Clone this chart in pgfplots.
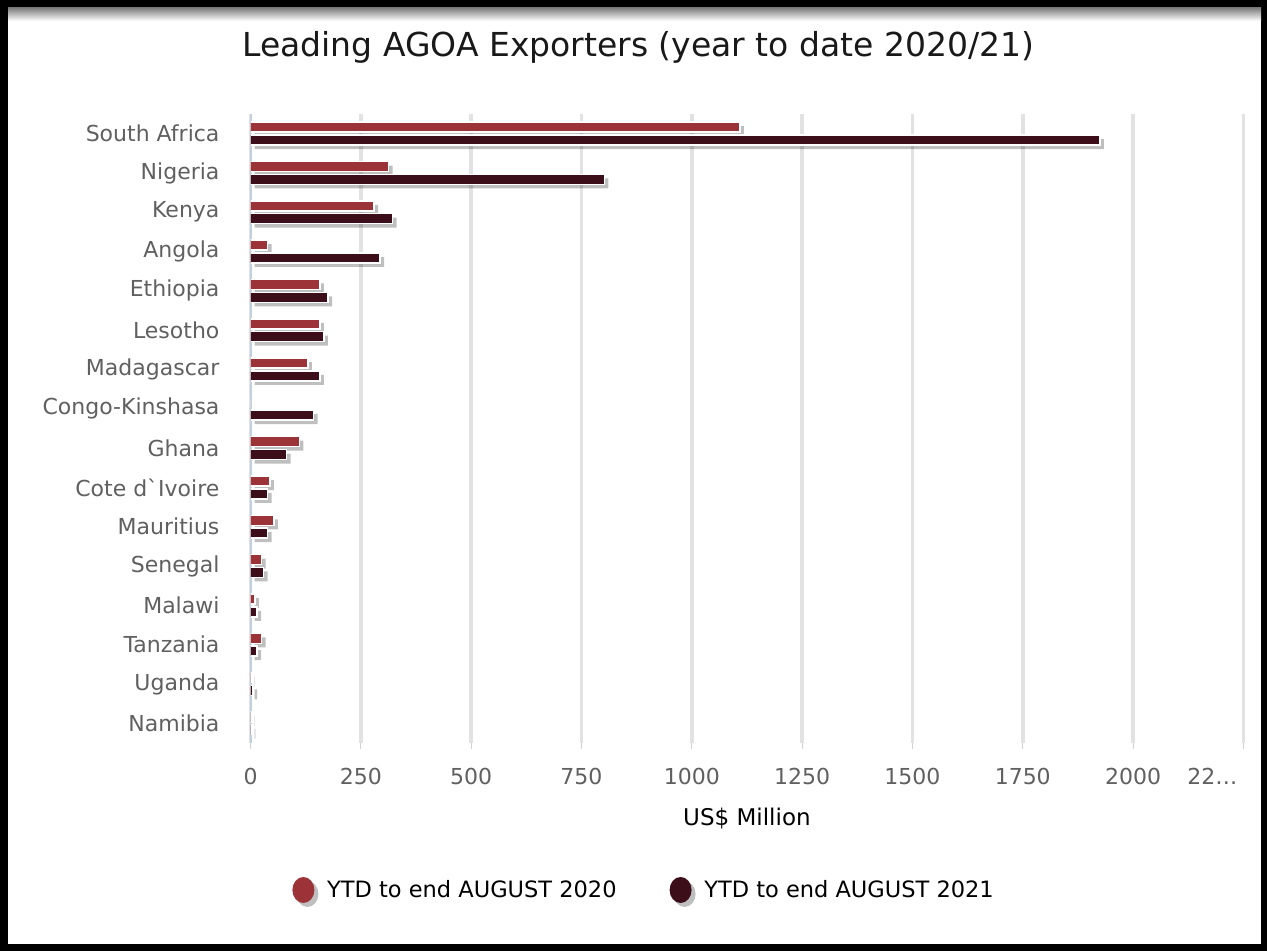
\documentclass[border=0pt]{standalone}
\usepackage{pgfplots}
\usepackage{pgfplotstable}
\pgfplotsset{compat=1.18}
\usepackage{fontspec}
\setmainfont{DejaVu Sans}
\definecolor{c2020}{HTML}{9B3338}
\definecolor{c2021}{HTML}{3C0E19}
\definecolor{tickgray}{HTML}{606060}
\definecolor{axisblue}{HTML}{C0D0E0}
\definecolor{gridgray}{HTML}{E2E2E2}

\pgfplotstableread{
y a b
15 1109 1925
14 313 802
13 280 322
12 39 294
11 157 176
10 157 166
9 130 157
8 0 143
7 111 82
6 44 39
5 53 39
4 25 30
3 10 15
2 25 15
1 1 6
0 1 2
}\datatable

\begin{document}
\begin{tikzpicture}
\fill[black] (0,0) rectangle (633.5pt,475.5pt);
\fill[white] (4pt,3.5pt) rectangle (630.5pt,471.5pt);
\shade[top color=black!50, bottom color=white] (4pt,465pt) rectangle (630.5pt,471.5pt);
\begin{axis}[
  at={(125.25pt,104pt)}, anchor=south west,
  scale only axis, width=496.45pt, height=314.5pt,
  xbar, bar width=5pt,
  xmin=0, xmax=2250, ymin=-0.5, ymax=15.5,
  xtick={0,250,...,2250},
  xticklabels={0,250,500,750,1000,1250,1500,1750,2000,{\makebox[0pt][r]{22…\hspace{3pt}}}},
  ytick={0,...,15},
  yticklabels={Namibia,Uganda,Tanzania,Malawi,Senegal,Mauritius,{Cote d\textasciigrave Ivoire},Ghana,Congo-Kinshasa,Madagascar,Lesotho,Ethiopia,Angola,Kenya,Nigeria,South Africa},
  /pgf/number format/assume math mode=true,
  axis lines*=left,
  x axis line style={draw=none},
  y axis line style={-, draw=axisblue, line width=1pt},
  tick align=outside,
  major tick length=3pt,
  xtick style={draw=gray!35, line width=0.5pt},
  ytick style={draw=none},
  xmajorgrids,
  major x grid style={draw=gridgray, line width=1.75pt},
  xticklabel style={font=\fontsize{11}{13}\selectfont, text=tickgray, yshift=-6pt},
  yticklabel style={font=\fontsize{11}{13}\selectfont, text=tickgray, xshift=-9pt},
  title={Leading AGOA Exporters (year to date 2020/21)},
  title style={at={(axis description cs:0.5,1)}, anchor=base, xshift=-54.25pt, yshift=22.5pt, font=\fontsize{16.5}{20}\selectfont, text=black!90},
  xlabel={US\$ Million},
  xlabel style={at={(axis description cs:0.5,0)}, anchor=base, yshift=-41.5pt, font=\fontsize{11.5}{14}\selectfont},
  legend columns=2,
  legend style={at={(axis description cs:0,0)}, anchor=west, xshift=20.75pt, yshift=-73.5pt, draw=none, fill=none, inner sep=0pt, font=\fontsize{11.25}{13}\selectfont, /tikz/every even column/.append style={column sep=24.5pt}},
  legend image code/.code={\fill[#1, draw=none] (5.5pt,0pt) ellipse [x radius=5.5pt, y radius=6.5pt]; \path (15pt,0pt);},
]
\addplot[fill=c2020, draw=white, line width=0.75pt, bar shift=3.2pt,
  preaction={fill=black, fill opacity=0.25, draw=none, transform canvas={xshift=2pt, yshift=-2pt}}]
  table[x=a, y=y]{\datatable};
\addplot[fill=c2021, draw=white, line width=0.75pt, bar shift=-3.2pt,
  preaction={fill=black, fill opacity=0.25, draw=none, transform canvas={xshift=2pt, yshift=-2pt}}]
  table[x=b, y=y]{\datatable};
\legend{YTD to end AUGUST 2020, YTD to end AUGUST 2021}
\end{axis}
\end{tikzpicture}
\end{document}
